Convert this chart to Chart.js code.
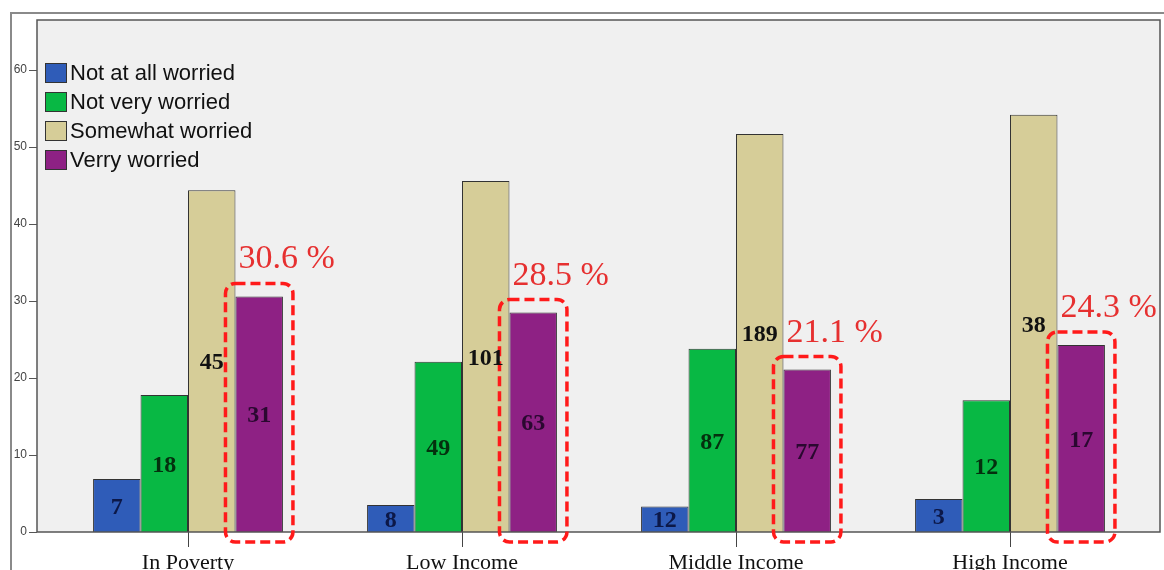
<!DOCTYPE html>
<html><head><meta charset="utf-8">
<script src="https://cdn.jsdelivr.net/npm/chart.js@4.4.0/dist/chart.umd.min.js"></script>
<style>html,body{margin:0;padding:0;background:#fff;overflow:hidden}#wrap{width:1164px;height:570px;position:relative}</style>
</head><body><div id="wrap"><canvas id="c"></canvas></div>
<script>
const categories = ['In Poverty', 'Low Income', 'Middle Income', 'High Income'];
const seriesNames = ['Not at all worried', 'Not very worried', 'Somewhat worried', 'Verry worried'];
const notAtAll = [6.9, 3.5, 3.3, 4.3];
const notVery = [17.8, 22.1, 23.8, 17.1];
const somewhat = [44.4, 45.6, 51.7, 54.2];
const verry = [30.6, 28.5, 21.1, 24.3];
const countsNotAtAll = [7, 8, 12, 3];
const countsNotVery = [18, 49, 87, 12];
const countsSomewhat = [45, 101, 189, 38];
const countsVerry = [31, 63, 77, 17];
const pctLabels = ['30.6 %', '28.5 %', '21.1 %', '24.3 %'];
const yTicks = [0, 10, 20, 30, 40, 50, 60];

const fills = ['#2f5cb8', '#08b844', '#d6cd98', '#8e2184'];
const labelColors = ['#0c1848', '#04300e', '#111111', '#2a0830'];
const countSets = [countsNotAtAll, countsNotVery, countsSomewhat, countsVerry];

function plotRect(chart) {
  const a = chart.chartArea;
  return { l: a.left - 14, r: a.right + 13, t: a.top, b: a.bottom };
}

const framePlugin = {
  id: 'frame',
  beforeDraw(chart) {
    const ctx = chart.ctx, p = plotRect(chart);
    ctx.save();
    ctx.fillStyle = '#fff';
    ctx.fillRect(0, 0, chart.width, chart.height);
    ctx.strokeStyle = '#8a8a8a';
    ctx.lineWidth = 2;
    ctx.beginPath();
    ctx.moveTo(11, chart.height + 5);
    ctx.lineTo(11, 13);
    ctx.lineTo(chart.width + 5, 13);
    ctx.stroke();
    ctx.fillStyle = '#f0f0f0';
    ctx.fillRect(p.l, p.t, p.r - p.l, p.b - p.t);
    ctx.restore();
  },
  afterDatasetsDraw(chart) {
    const ctx = chart.ctx, p = plotRect(chart);
    ctx.save();
    // plot border
    ctx.strokeStyle = '#555';
    ctx.lineWidth = 1.5;
    ctx.strokeRect(p.l, p.t, p.r - p.l, p.b - p.t);
    // y tick marks
    const ys = chart.scales.y;
    ctx.lineWidth = 1;
    ctx.strokeStyle = '#555';
    yTicks.forEach(v => {
      const y = Math.round(ys.getPixelForValue(v)) + 0.5;
      ctx.beginPath();
      ctx.moveTo(p.l - 8, y);
      ctx.lineTo(p.l, y);
      ctx.stroke();
    });
    // dashed boxes + percent labels on "Verry worried"
    const meta = chart.getDatasetMeta(3);
    meta.data.forEach((bar, i) => {
      const w = bar.width;
      const x0 = bar.x - w / 2 - 10, x1 = bar.x + w / 2 + 10;
      const y0 = bar.y - 13, y1 = bar.base + 10;
      const r = 10;
      ctx.setLineDash([10, 5]);
      ctx.lineWidth = 3.5;
      ctx.strokeStyle = '#ff1a1a';
      ctx.beginPath();
      ctx.moveTo(x0 + r, y0);
      ctx.lineTo(x1 - r, y0);
      ctx.arcTo(x1, y0, x1, y0 + r, r);
      ctx.lineTo(x1, y1 - r);
      ctx.arcTo(x1, y1, x1 - r, y1, r);
      ctx.lineTo(x0 + r, y1);
      ctx.arcTo(x0, y1, x0, y1 - r, r);
      ctx.lineTo(x0, y0 + r);
      ctx.arcTo(x0, y0, x0 + r, y0, r);
      ctx.closePath();
      ctx.stroke();
      ctx.setLineDash([]);
      ctx.fillStyle = '#e63030';
      ctx.font = '34px "Liberation Serif", "Times New Roman", serif';
      ctx.textAlign = 'left';
      ctx.textBaseline = 'alphabetic';
      ctx.fillText(pctLabels[i], bar.x - w / 2 + 3, bar.y - 28);
    });
    // count labels
    ctx.font = 'bold 24px "Liberation Serif", "Times New Roman", serif';
    ctx.textAlign = 'center';
    ctx.textBaseline = 'middle';
    chart.data.datasets.forEach((ds, di) => {
      chart.getDatasetMeta(di).data.forEach((bar, i) => {
        ctx.fillStyle = labelColors[di];
        ctx.fillText(String(countSets[di][i]), bar.x, (bar.y + bar.base) / 2 + 2);
      });
    });
    // legend
    ctx.font = '22px "Liberation Sans", Arial, sans-serif';
    ctx.textAlign = 'left';
    ctx.textBaseline = 'middle';
    chart.data.datasets.forEach((ds, di) => {
      const cy = 73 + di * 29;
      ctx.fillStyle = ds.backgroundColor;
      ctx.fillRect(45, cy - 10, 22, 20);
      ctx.strokeStyle = '#333';
      ctx.lineWidth = 1;
      ctx.strokeRect(45.5, cy - 9.5, 21, 19);
      ctx.fillStyle = '#111';
      ctx.fillText(ds.label, 70, cy + 1);
    });
    ctx.restore();
  }
};

const datasets = [notAtAll, notVery, somewhat, verry].map((d, i) => ({
  label: seriesNames[i],
  data: d,
  backgroundColor: fills[i],
  borderColor: '#333',
  borderWidth: 1,
  barPercentage: 1.0,
  categoryPercentage: 0.693
}));

new Chart(document.getElementById('c'), {
  type: 'bar',
  data: { labels: categories, datasets },
  plugins: [framePlugin],
  options: {
    responsive: true,
    maintainAspectRatio: false,
    animation: false,
    layout: { padding: { left: 13, right: 17, top: 20, bottom: 0 } },
    plugins: { legend: { display: false }, tooltip: { enabled: false } },
    scales: {
      x: {
        grid: { display: true, drawOnChartArea: false, drawTicks: true, tickLength: 15, offset: false, color: '#444', lineWidth: 1 },
        border: { display: false },
        ticks: { color: '#111', font: { family: '"Liberation Serif", "Times New Roman", serif', size: 22 }, padding: 3, maxRotation: 0, autoSkip: false },
        afterFit(s) { s.height = 38; }
      },
      y: {
        min: 0,
        max: 66.5,
        afterBuildTicks(s) { s.ticks = yTicks.map(v => ({ value: v })); },
        grid: { display: false, drawTicks: true, tickLength: 22 },
        border: { display: false },
        ticks: { color: '#444', font: { family: '"Liberation Sans", Arial, sans-serif', size: 12 }, padding: 2 },
        afterFit(s) { s.width = 38; }
      }
    }
  }
});
</script>
</body></html>
